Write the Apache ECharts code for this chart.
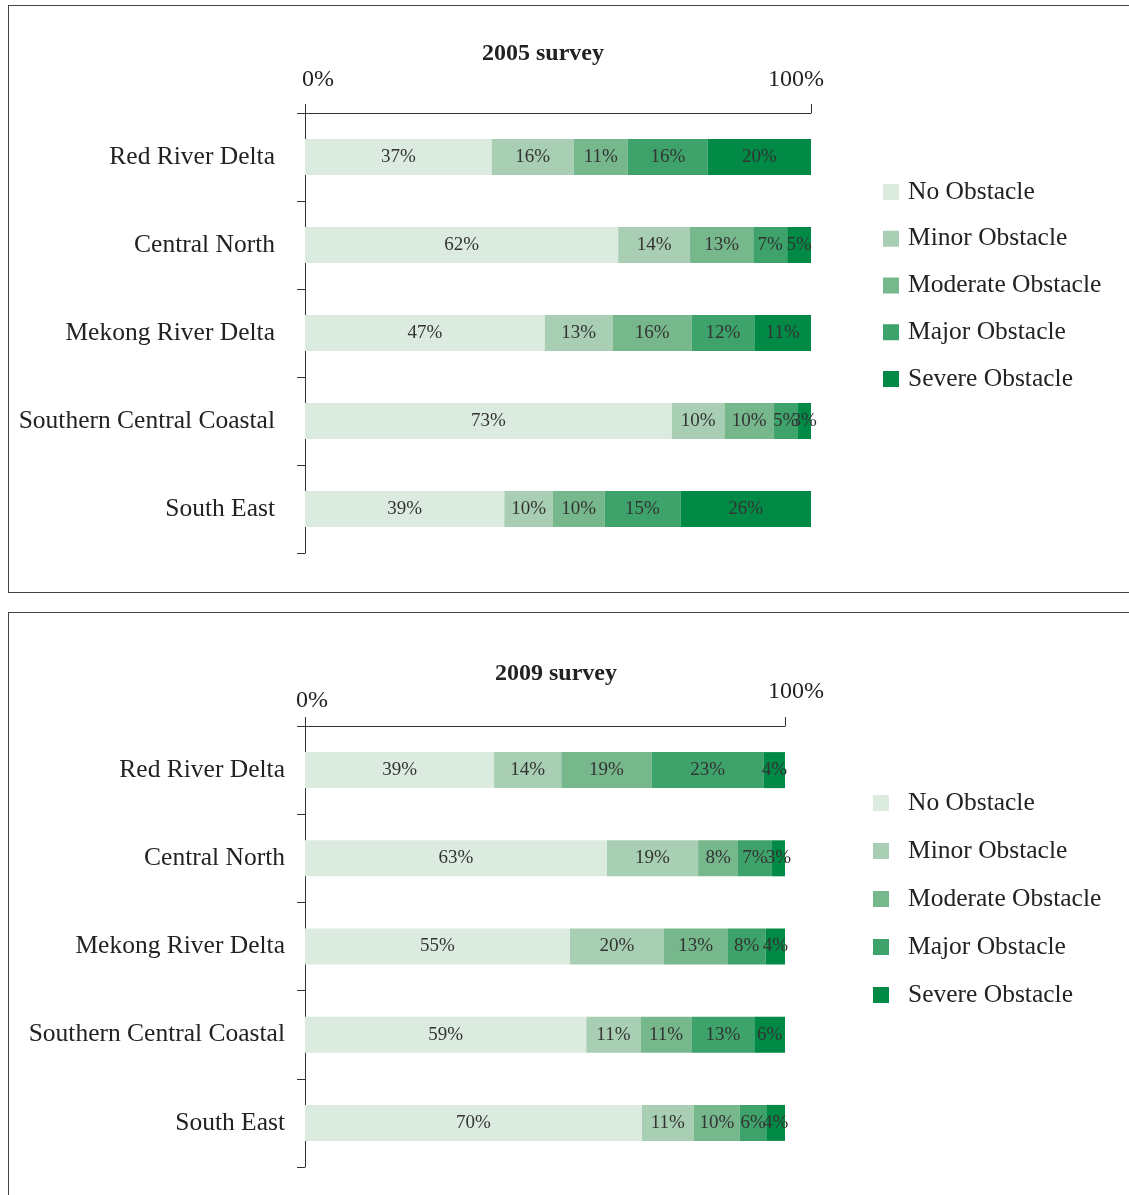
<!DOCTYPE html>
<html>
<head>
<meta charset="utf-8">
<script src="https://cdn.jsdelivr.net/npm/echarts@6/dist/echarts.min.js"></script>
<style>
  html, body { margin: 0; padding: 0; background: #fff; }
  #wrap { position: relative; width: 1129px; height: 1195px; overflow: hidden; }
  .panel { position: absolute; border: 1.5px solid #444; box-sizing: border-box; }
  #chart { position: absolute; left: 0; top: 0; width: 1129px; height: 1195px; }
</style>
</head>
<body>
<div id="wrap">
  <div class="panel" style="left:8px;top:5px;width:1300px;height:588px;"></div>
  <div class="panel" style="left:8px;top:612px;width:1300px;height:700px;"></div>
  <div id="chart"></div>
</div>
<script>
// categories and legend names
var regions = ['Red River Delta', 'Central North', 'Mekong River Delta', 'Southern Central Coastal', 'South East'];
var levels = ['No Obstacle', 'Minor Obstacle', 'Moderate Obstacle', 'Major Obstacle', 'Severe Obstacle'];
var colors = ['#dcebe0', '#a8cfb4', '#76b78c', '#3ea36b', '#008a45'];

// 2005 survey, share per region (one array per obstacle level)
var s2005No       = [36.9, 61.9, 47.4, 72.5, 39.4];
var s2005Minor    = [16.2, 14.2, 13.4, 10.4, 9.6];
var s2005Moderate = [10.7, 12.5, 15.6, 9.8, 10.2];
var s2005Major    = [15.8, 6.7, 12.4, 4.6, 15.0];
var s2005Severe   = [20.4, 4.7, 11.2, 2.7, 25.8];

// 2009 survey
var s2009No       = [39.4, 62.9, 55.2, 58.6, 70.2];
var s2009Minor    = [14.0, 19.0, 19.6, 11.3, 10.8];
var s2009Moderate = [18.8, 8.3, 13.2, 10.6, 9.6];
var s2009Major    = [23.4, 7.1, 8.0, 13.1, 5.5];
var s2009Severe   = [4.4, 2.7, 4.0, 6.4, 3.9];

var font = '"Liberation Serif", "DejaVu Serif", serif';
var chart = echarts.init(document.getElementById('chart'));

function xAxisFor(idx, rich0, rich100, margin) {
  return {
    gridIndex: idx, type: 'value', position: 'top', min: 0, max: 100, interval: 100,
    axisLine: { show: true, lineStyle: { color: '#333', width: 1 } },
    axisTick: { show: true, length: 9, lineStyle: { color: '#333' } },
    splitLine: { show: false },
    axisLabel: {
      margin: margin, fontFamily: font, fontSize: 24, color: '#222',
      formatter: function (v) { return v === 0 ? '{a|0%}' : '{b|100%}'; },
      rich: {
        a: { fontFamily: font, fontSize: 24, color: '#222', padding: rich0 },
        b: { fontFamily: font, fontSize: 24, color: '#222', padding: rich100 }
      }
    }
  };
}

function yAxisFor(idx, margin) {
  return {
    gridIndex: idx, type: 'category', data: regions, inverse: true,
    axisLine: { show: true, lineStyle: { color: '#333', width: 1 } },
    axisTick: { show: true, length: 8, lineStyle: { color: '#333' } },
    axisLabel: { margin: margin, fontFamily: font, fontSize: 25.5, color: '#222' }
  };
}

function seriesFor(idx, arrays) {
  return arrays.map(function (arr, i) {
    return {
      name: levels[i], type: 'bar', stack: 'g' + idx,
      xAxisIndex: idx, yAxisIndex: idx, barWidth: 36, data: arr,
      itemStyle: { color: colors[i] },
      label: {
        show: true, position: 'inside', fontFamily: font, fontSize: 19, color: '#333',
        formatter: function (p) { return Math.round(p.value) + '%'; }
      },
      emphasis: { disabled: true }
    };
  });
}

function legendFor(left, top, pad, gap) {
  return {
    orient: 'vertical', left: left, top: top, icon: 'rect', padding: 0,
    itemWidth: 16, itemHeight: 16, itemGap: gap, data: levels,
    textStyle: { fontFamily: font, fontSize: 25.5, color: '#222', lineHeight: 22, padding: [0, 0, 0, pad] }
  };
}

chart.setOption({
  animation: false,
  color: colors,
  title: [
    { text: '2005 survey', left: 538, top: 37, textAlign: 'center',
      textStyle: { fontFamily: font, fontSize: 24, fontWeight: 'bold', color: '#222' } },
    { text: '2009 survey', left: 551, top: 657, textAlign: 'center',
      textStyle: { fontFamily: font, fontSize: 24, fontWeight: 'bold', color: '#222' } }
  ],
  legend: [legendFor(883, 179, 4, 20.75), legendFor(873, 790, 14, 22)],
  grid: [
    { left: 305, top: 113, width: 506, height: 440 },
    { left: 305, top: 726, width: 480, height: 441 }
  ],
  xAxis: [
    xAxisFor(0, [0, 0, 0, 26], [0, 30, 0, 0], 21),
    xAxisFor(1, [0, 0, 0, 14], [0, 0, 9, 22], 13)
  ],
  yAxis: [yAxisFor(0, 30), yAxisFor(1, 20)],
  series: seriesFor(0, [s2005No, s2005Minor, s2005Moderate, s2005Major, s2005Severe])
    .concat(seriesFor(1, [s2009No, s2009Minor, s2009Moderate, s2009Major, s2009Severe]))
});
</script>
</body>
</html>
